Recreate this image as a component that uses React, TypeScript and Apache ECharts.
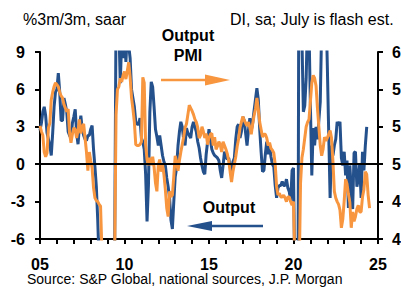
import React, { useEffect, useRef } from "react";
import * as echarts from "echarts";

// Monthly data, starting January 2005
const START_YEAR = 2005;

// Output, %3m/3m saar (left axis)
const outputValues: number[] = [
  // 2005
  2.7, 3.3, 4.2, 4.6, 3.9, 2.5, 2.0, 1.5, 0.7, 2.5, 4.6, 5.8,
  // 2006
  6.0, 7.3, 5.8, 3.5, 3.5, 5.3, 4.8, 4.2, 2.6, 2.3, 2.1, 3.3,
  // 2007
  3.8, 4.4, 2.5, 1.6, 3.0, 3.9, 2.8, 2.3, 2.0, 1.9, 2.3, 2.3,
  // 2008
  2.8, 3.1, 1.2, -0.2, -1.8, -4.5, -8, -11, -14, -17, -20, -22,
  // 2009
  -22, -20, -17, -14, -10, -7, 12, 10, 11, 6.5, 10, 8.5,
  // 2010
  10.5, 8.2, 10.5, 9.5, 8.5, 6.0, 5.3, 4.6, 3.4, 3.2, 3.2, 3.7,
  // 2011
  2.1, 1.8, 1.2, -0.8, -4.6, -1.7, 4.2, 6.6, 6.2, 4.6, 2.8, 2.2,
  // 2012
  1.5, 2.3, 1.5, 0.7, 0.2, -0.1, -1.1, -1.8, -2.7, -4.5, -5.2, -3.0,
  // 2013
  -1.0, -0.3, 1.5, 2.6, 3.4, 3.0, 2.0, 1.5, 2.9, 2.5, 2.3, 2.1,
  // 2014
  3.0, 3.4, 3.0, 2.6, 1.8, 1.3, 0.5, -0.1, -0.6, -0.8, 0.8, 1.8,
  // 2015
  2.8, 2.0, 1.2, 0.9, 0.7, 0.6, 0.5, 0.3, -0.5, -1.1, -0.1, 1.0,
  // 2016
  0.6, 0.4, 0.5, -0.2, -0.6, 0.2, 0.5, 2.0, 3.0, 3.2, 2.1, 2.6,
  // 2017
  3.8, 3.5, 2.5, 1.5, 2.7, 3.7, 2.7, 3.3, 4.3, 5.2, 6.1, 5.2,
  // 2018
  2.8, 1.0, -0.6, -0.5, 0.8, 1.8, 0.8, 1.5, 0.6, 0.0, -0.2, -1.7,
  // 2019
  -2.7, -1.9, -1.7, -1.7, -1.4, -1.7, -1.7, -1.2, -1.9, -2.2, -3.0, -0.5,
  // 2020
  -0.3, -10, -25, -20, 25, 30, 10, 4.2, 4.7, 6.9, 12, 11,
  // 2021
  4.7, -0.9, 2.9, 1.5, 3.0, 2.0, 3.5, 5.0, 11, 14, 9.5, 13,
  // 2022
  8.0, 2.5, -2.7, 1.5, 0.7, 1.5, 2.0, 3.4, 3.1, 3.4, 0.5, -0.1,
  // 2023
  1.0, -0.9, 0.3, -3.5, -0.1, -2.0, -3.6, 0.9, 1.0, -1.8, -1.2, 0.0,
  // 2024
  -2.7, 1.0, -0.5, 1.5, 3.0,
];

// Output PMI, DI sa (right axis)
const pmiValues: number[] = [
  // 2005
  54.1, 53.5, 53.1, 51.3, 50.8, 51.2, 53.9, 54.4, 56.9, 57.7, 58.3, 58.7,
  // 2006
  58.5, 58.3, 57.7, 57.3, 57.1, 56.4, 56.0, 55.6, 55.9, 53.3, 52.3, 53.2,
  // 2007
  53.9, 53.7, 52.8, 53.6, 54.8, 53.3, 54.0, 54.3, 52.8, 51.3, 49.3, 51.3,
  // 2008
  50.4, 49.6, 47.5, 46.4, 46.1, 46.0, 45.7, 45.5, 40.5, 37.0, 34.0, 33.0,
  // 2009
  32.0, 33.0, 34.0, 36.0, 38.0, 40.0, 55.3, 58.0, 58.3, 59.2, 58.8, 59.5,
  // 2010
  59.9, 59.1, 60.0, 60.9, 59.3, 57.1, 55.9, 54.5, 52.1, 52.0, 52.0, 52.1,
  // 2011
  52.4, 59.3, 58.7, 52.1, 50.5, 49.9, 50.7, 49.9, 50.8, 49.7, 48.0, 47.1,
  // 2012
  49.9, 50.5, 49.2, 50.0, 48.9, 47.3, 45.3, 44.4, 47.1, 46.5, 46.7, 48.7,
  // 2013
  50.9, 50.3, 49.3, 50.4, 51.3, 52.1, 52.9, 53.9, 54.3, 55.3, 56.3, 56.0,
  // 2014
  55.7, 55.3, 54.8, 54.5, 53.9, 52.8, 53.1, 54.0, 53.5, 52.8, 53.3, 52.1,
  // 2015
  52.8, 53.2, 53.3, 52.0, 52.9, 51.6, 51.9, 52.4, 52.1, 51.3, 52.4, 52.0,
  // 2016
  51.6, 51.1, 50.4, 49.2, 48.1, 49.2, 50.0, 50.8, 51.9, 52.7, 53.9, 54.5,
  // 2017
  55.1, 54.7, 54.4, 54.1, 54.5, 53.9, 53.2, 54.3, 55.2, 55.9, 57.1, 55.9,
  // 2018
  54.5, 53.7, 52.9, 53.2, 53.2, 52.8, 52.0, 52.3, 51.7, 51.5, 51.2, 50.0,
  // 2019
  47.6, 46.7, 46.9, 46.5, 46.5, 46.7, 46.4, 46.0, 46.5, 46.5, 46.0, 45.6,
  // 2020
  46.0, 39.0, 36.0, 35.0, 38.0, 48.0, 50.7, 51.6, 52.8, 54.0, 54.5, 54.8,
  // 2021
  56.7, 58.7, 59.5, 59.2, 58.4, 56.0, 54.0, 52.0, 50.9, 51.6, 52.9, 52.5,
  // 2022
  52.8, 53.2, 53.6, 52.8, 50.3, 47.1, 46.4, 46.0, 45.7, 45.1, 43.2, 44.1,
  // 2023
  46.1, 48.4, 47.9, 46.8, 45.9, 43.2, 44.9, 43.9, 44.4, 45.2, 45.6, 44.9,
  // 2024
  44.9, 46.5, 47.3, 49.2, 48.9, 46.7, 45.3,
];

const leftTicks = { min: -6, max: 9, interval: 3 };
const rightTickValues = [42, 46, 50, 54, 58, 62];
const xYears = { min: 2005, max: 2025 };

const BLUE = "#24508C";
const ORANGE = "#F7963F";
const FONT = "'Liberation Sans', Arial, Helvetica, sans-serif";

export default function App() {
  const ref = useRef<HTMLDivElement>(null);

  useEffect(() => {
    if (!ref.current) return;
    const chart = echarts.init(ref.current, undefined, { renderer: "svg" });

    const outData = outputValues.map((v, i) => [START_YEAR + i / 12, v]);
    const pmiData = pmiValues.map((v, i) => [START_YEAR + i / 12, v]);

    const axisLine = { show: true, onZero: false, lineStyle: { color: "#000", width: 2 } };
    const axisTick = { show: true, length: 5, lineStyle: { color: "#000", width: 2 } };
    const labelStyle = {
      color: "#000",
      fontSize: 16,
      fontWeight: "bold" as const,
      fontFamily: FONT,
    };

    chart.setOption({
      animation: false,
      grid: { left: 40, top: 52, width: 338, height: 187, containLabel: false },
      xAxis: {
        type: "value",
        min: xYears.min,
        max: xYears.max,
        interval: 1,
        axisLine,
        axisTick: { ...axisTick, length: 5 },
        splitLine: { show: false },
        axisLabel: {
          ...labelStyle,
          margin: 17,
          showMinLabel: true,
          showMaxLabel: true,
          formatter: (v: number) =>
            Math.round(v) % 5 === 0 ? String(Math.round(v) % 100).padStart(2, "0") : "",
        },
      },
      yAxis: [
        {
          type: "value",
          position: "left",
          min: leftTicks.min,
          max: leftTicks.max,
          interval: leftTicks.interval,
          axisLine,
          axisTick,
          splitLine: { show: false },
          axisLabel: { ...labelStyle, margin: 15 },
        },
        {
          type: "value",
          position: "right",
          min: rightTickValues[0],
          max: rightTickValues[rightTickValues.length - 1],
          axisLine,
          axisTick: { ...axisTick, customValues: rightTickValues },
          splitLine: { show: false },
          axisLabel: { ...labelStyle, margin: 14, customValues: rightTickValues },
        },
      ],
      series: [
        {
          name: "Output",
          type: "line",
          yAxisIndex: 0,
          data: outData,
          showSymbol: false,
          clip: true,
          lineStyle: { color: BLUE, width: 3 },
          itemStyle: { color: BLUE },
          z: 2,
          markLine: {
            silent: true,
            symbol: ["none", "none"],
            label: { show: false },
            lineStyle: { color: "#000", width: 2, type: "solid" },
            data: [{ yAxis: 0 }],
          },
        },
        {
          name: "Output PMI",
          type: "line",
          yAxisIndex: 1,
          data: pmiData,
          showSymbol: false,
          clip: true,
          lineStyle: { color: ORANGE, width: 3 },
          itemStyle: { color: ORANGE },
          z: 3,
        },
      ],
      graphic: [
        {
          type: "text",
          left: 23,
          top: 11,
          style: { text: "%3m/3m, saar", fill: "#000", fontSize: 16, fontFamily: FONT },
        },
        {
          type: "text",
          left: 230,
          top: 11,
          style: { text: "DI, sa; July is flash est.", fill: "#000", fontSize: 16, fontFamily: FONT },
        },
        {
          type: "text",
          x: 188,
          y: 35,
          style: {
            text: "Output",
            fill: "#000",
            fontSize: 16,
            fontWeight: "bold",
            fontFamily: FONT,
            align: "center",
            verticalAlign: "middle",
          },
        },
        {
          type: "text",
          x: 188,
          y: 55,
          style: {
            text: "PMI",
            fill: "#000",
            fontSize: 16,
            fontWeight: "bold",
            fontFamily: FONT,
            align: "center",
            verticalAlign: "middle",
          },
        },
        {
          type: "line",
          shape: { x1: 161, y1: 80, x2: 207, y2: 80 },
          style: { stroke: ORANGE, lineWidth: 2.5 },
        },
        {
          type: "polygon",
          shape: { points: [[205, 74.5], [230, 80], [205, 85.5]] },
          style: { fill: ORANGE },
        },
        {
          type: "text",
          x: 229,
          y: 207,
          style: {
            text: "Output",
            fill: "#000",
            fontSize: 16,
            fontWeight: "bold",
            fontFamily: FONT,
            align: "center",
            verticalAlign: "middle",
          },
        },
        {
          type: "line",
          shape: { x1: 210, y1: 226, x2: 263, y2: 226 },
          style: { stroke: BLUE, lineWidth: 2.5 },
        },
        {
          type: "polygon",
          shape: { points: [[212, 221], [187, 226], [212, 231]] },
          style: { fill: BLUE },
        },
        {
          type: "text",
          left: 27,
          top: 272,
          style: {
            text: "Source: S&P Global, national sources, J.P. Morgan",
            fill: "#000",
            fontSize: 14,
            fontFamily: FONT,
          },
        },
      ],
    });

    return () => chart.dispose();
  }, []);

  return (
    <div
      style={{
        position: "fixed",
        left: 0,
        top: 0,
        width: 401,
        height: 288,
        overflow: "hidden",
        background: "#fff",
      }}
    >
      <div ref={ref} style={{ width: 440, height: 288 }} />
    </div>
  );
}
